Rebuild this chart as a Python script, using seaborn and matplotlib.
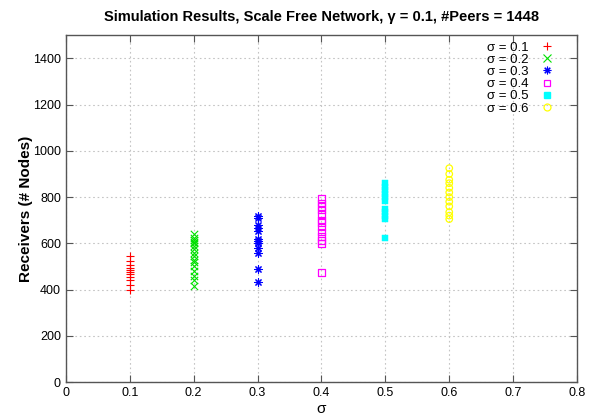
import pandas as pd
import seaborn as sns
import matplotlib
matplotlib.use("Agg")
import matplotlib.pyplot as plt
from matplotlib.lines import Line2D

# Receivers per run
sigmas = [0.1, 0.2, 0.3, 0.4, 0.5, 0.6]
recv_01 = [545, 525, 505, 492, 485, 478, 468, 455, 440, 420, 400]
recv_02 = [640, 625, 615, 608, 600, 590, 575, 560, 545, 530, 518, 500, 480, 460, 440, 415]
recv_03 = [720, 710, 680, 668, 655, 620, 610, 600, 580, 560, 490, 435]
recv_04 = [795, 775, 760, 745, 725, 700, 690, 670, 650, 630, 612, 600, 475]
recv_05 = [860, 845, 830, 815, 800, 785, 750, 735, 720, 705, 625]
recv_06 = [925, 900, 875, 860, 840, 820, 800, 780, 760, 735, 720, 705]
series = [recv_01, recv_02, recv_03, recv_04, recv_05, recv_06]

rows = []
for s, vals in zip(sigmas, series):
    for v in vals:
        rows.append({"sigma": s, "receivers": v, "label": f"σ = {s}"})
df = pd.DataFrame(rows)

colors = ["#ff0000", "#00e000", "#0000ff", "#ff00ff", "#00ffff", "#ffff00"]
markers = ["+", "x", (8, 2, 0), "s", "s", "o"]
open_marker = [False, False, False, True, False, True]

sns.set_style("ticks")
plt.rcParams["font.family"] = ["Liberation Sans", "DejaVu Sans"]
plt.rcParams["text.color"] = "black"
plt.rcParams["axes.labelcolor"] = "black"
plt.rcParams["xtick.color"] = "black"
plt.rcParams["ytick.color"] = "black"

fig = plt.figure(figsize=(5.98, 4.19), dpi=100)
ax = fig.add_axes([0.110, 0.088, 0.855, 0.828])

handles = []
labels = []
for i, (lab, grp) in enumerate(df.groupby("label", sort=True)):
    kw = dict(data=grp, x="sigma", y="receivers", ax=ax, zorder=3, legend=False)
    if open_marker[i]:
        sns.scatterplot(marker=markers[i], facecolor="none", edgecolor=colors[i],
                        linewidth=0.9, s=22, **kw)
        h = Line2D([], [], ls="", marker=markers[i], mfc="none", mec=colors[i], ms=5, mew=0.9)
    elif markers[i] == "s":
        sns.scatterplot(marker="s", color=colors[i], edgecolor=colors[i], s=18, **kw)
        h = Line2D([], [], ls="", marker="s", mfc=colors[i], mec=colors[i], ms=4.5)
    else:
        sns.scatterplot(marker=markers[i], color=colors[i], linewidth=0.8, s=28, **kw)
        h = Line2D([], [], ls="", marker=markers[i], color=colors[i], ms=5.5, mew=0.8)
    handles.append(h)
    labels.append(lab)

ax.set_xlim(0, 0.8)
ax.set_ylim(0, 1500)
ax.set_xticks([0, 0.1, 0.2, 0.3, 0.4, 0.5, 0.6, 0.7, 0.8])
ax.set_xticklabels(["0", "0.1", "0.2", "0.3", "0.4", "0.5", "0.6", "0.7", "0.8"])
ax.set_yticks(range(0, 1401, 200))
ax.grid(True, color="#c4c4c4", linestyle=(0, (1.5, 2.5)), linewidth=0.8)
ax.tick_params(direction="in", top=True, right=True, length=5, labelsize=9, color="#555555")
for sp in ax.spines.values():
    sp.set_color("#555555")
    sp.set_linewidth(1.0)

ax.set_title("Simulation Results, Scale Free Network, γ = 0.1, #Peers = 1448",
             fontsize=10.5, fontweight="bold", pad=10)
ax.set_xlabel("σ", fontsize=11, labelpad=2)
ax.set_ylabel("Receivers (# Nodes)", fontsize=11, fontweight="bold", labelpad=0)

ax.legend(handles, labels, loc="upper right", frameon=False, markerfirst=False, fontsize=9.5,
          handlelength=1.0, handletextpad=0.92, labelspacing=0.0, borderaxespad=0.3,
          bbox_to_anchor=(0.972, 1.009))

fig.savefig("out.png", dpi=100)
